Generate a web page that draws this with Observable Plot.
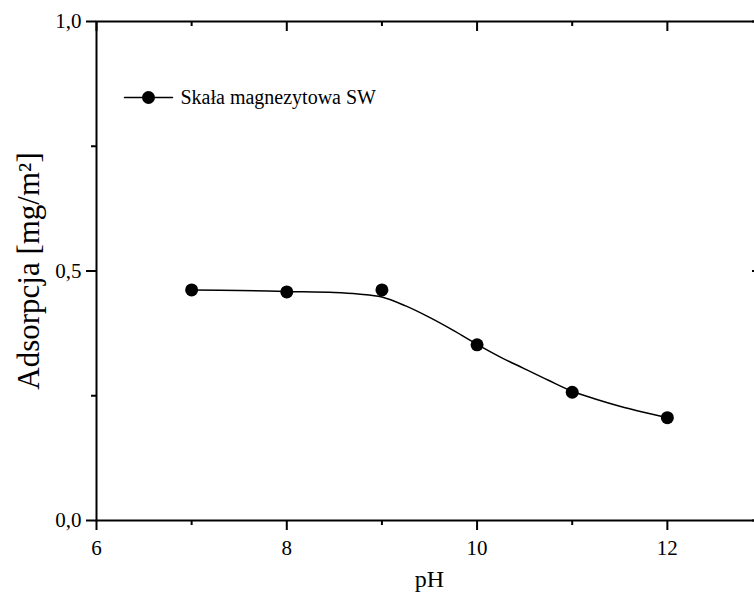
<!DOCTYPE html>
<html>
<head>
<meta charset="utf-8">
<script src="https://cdn.jsdelivr.net/npm/d3@7"></script>
<script src="https://cdn.jsdelivr.net/npm/@observablehq/plot@0.6"></script>
<style>
  html, body { margin: 0; padding: 0; background: #fff; overflow: hidden; }
  #chart { width: 754px; height: 592px; overflow: hidden; }
  #chart svg { max-width: none !important; }
</style>
</head>
<body>
<div id="chart"></div>
<script>
// Measured points
const pH = [7, 8, 9, 10, 11, 12];
const adsorption = [0.462, 0.458, 0.462, 0.352, 0.257, 0.206];

// Fitted curve
const fitPH = [7, 7.5, 8, 8.5, 8.75, 9, 9.25, 9.5, 9.75, 10, 10.25, 10.5, 10.75, 11, 11.25, 11.5, 11.75, 12];
const fitAdsorption = [0.462, 0.461, 0.459, 0.457, 0.454, 0.448, 0.430, 0.407, 0.381, 0.353, 0.327, 0.304, 0.281, 0.259, 0.243, 0.229, 0.217, 0.206];

// Ticks
const xMajorTicks = [6, 8, 10, 12];
const xMinorTicks = [7, 9, 11];
const yMajorTicks = [0, 0.5, 1.0];
const yMinorTicks = [0.25, 0.75];

// Texts
const xTitle = "pH";
const yTitle = "Adsorpcja [mg/m²]";
const seriesName = "Skała magnezytowa SW";

const points = pH.map((x, i) => ({x, y: adsorption[i]}));
const fit = fitPH.map((x, i) => ({x, y: fitAdsorption[i]}));
const comma = d => d.toFixed(1).replace(".", ",");
const blank = () => "";
const lineShape = {draw(context, l) { context.moveTo(0, 0); context.lineTo(0, -l); }};

const font = "'Liberation Serif', 'Times New Roman', serif";
const W = 762, H = 592, mL = 96, mR = 0, mT = 21, mB = 72;
const innerH = H - mT - mB;

const chart = Plot.plot({
  width: W,
  height: H,
  marginLeft: mL,
  marginRight: mR,
  marginTop: mT,
  marginBottom: mB,
  style: {fontFamily: font, fontSize: "21px", color: "black", background: "white", overflow: "visible", maxWidth: "none"},
  x: {domain: [6, 13], axis: null},
  y: {domain: [0, 1], axis: null},
  marks: [
    Plot.frame({stroke: "black", strokeWidth: 2}),
    // bottom axis: outward ticks + labels
    Plot.tickX(xMajorTicks, {x: d => d, insetTop: innerH, insetBottom: -10, stroke: "black", strokeWidth: 2}),
    Plot.tickX(xMinorTicks, {x: d => d, insetTop: innerH, insetBottom: -5, stroke: "black", strokeWidth: 2}),
    Plot.text(xMajorTicks, {x: d => d, text: d => String(d), frameAnchor: "bottom", dy: 28, lineAnchor: "middle", textAnchor: "middle", fontSize: 21, fill: "black"}),
    // top axis: inward ticks
    Plot.tickX(xMajorTicks, {x: d => d, insetTop: 0, insetBottom: innerH - 10, stroke: "black", strokeWidth: 2}),
    Plot.tickX(xMinorTicks, {x: d => d, insetTop: 0, insetBottom: innerH - 5, stroke: "black", strokeWidth: 2}),
    // left axis
    Plot.axisY({anchor: "left", ticks: yMajorTicks, tickSize: 10, tickPadding: 5, tickFormat: comma, fontSize: 21, strokeWidth: 2, label: null}),
    Plot.axisY({anchor: "left", ticks: yMinorTicks, tickSize: 5, tickFormat: blank, strokeWidth: 2, label: null}),
    // right axis (inward ticks, mostly beyond the picture)
    Plot.axisY({anchor: "right", ticks: yMajorTicks, tickSize: 11, dx: -11, tickFormat: blank, strokeWidth: 2, label: null}),
    // titles
    Plot.text([xTitle], {text: d => d, frameAnchor: "bottom", dy: 59, fontSize: 24, lineAnchor: "middle", textAnchor: "middle", fill: "black"}),
    Plot.text([yTitle], {text: d => d, frameAnchor: "left", dx: -67, rotate: -90, fontSize: 31, lineAnchor: "middle", textAnchor: "middle", fill: "black"}),
    // fitted curve and points
    Plot.line(fit, {x: "x", y: "y", curve: "catmull-rom", stroke: "black", strokeWidth: 1.5}),
    Plot.dot(points, {x: "x", y: "y", r: 6.5, fill: "black", stroke: "none"}),
    // legend
    Plot.vector([seriesName], {frameAnchor: "top-left", dx: 52, dy: 76, rotate: 90, length: 48, anchor: "middle", shape: lineShape, stroke: "black", strokeWidth: 1.5}),
    Plot.dot([seriesName], {frameAnchor: "top-left", dx: 52, dy: 76, r: 6.5, fill: "black", stroke: "none"}),
    Plot.text([seriesName], {text: d => d, frameAnchor: "top-left", dx: 84, dy: 76, textAnchor: "start", lineAnchor: "middle", fontSize: 20, fill: "black"})
  ]
});

document.getElementById("chart").appendChild(chart);
</script>
</body>
</html>
